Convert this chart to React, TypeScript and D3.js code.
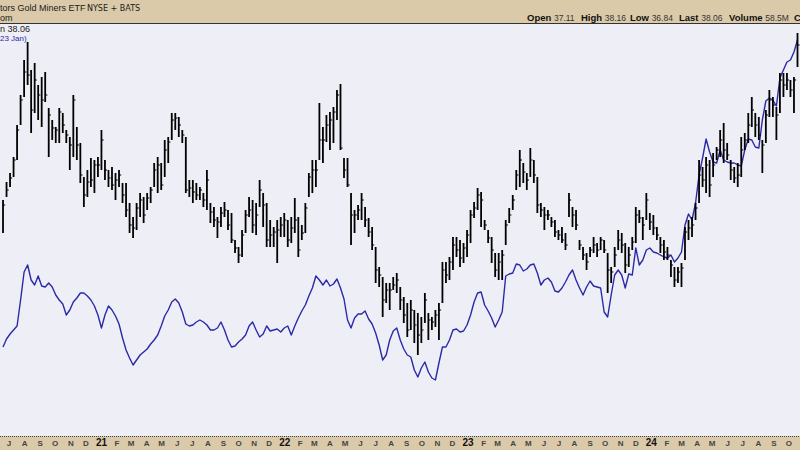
import { useEffect, useRef } from 'react'
import * as d3 from 'd3'

const WIDTH = 800
const HEIGHT = 450
const PLOT_TOP = 24
const PLOT_BOTTOM = 436

const FIRST_BAR = new Date(2020, 5, 19)
const X_DOMAIN: [Date, Date] = [new Date(2020, 5, 13), new Date(2024, 9, 23)]
const PRICE_DOMAIN = [19.4, 40]
const GOLD_DOMAIN = [1564, 2800]

const MONTH_LETTERS = ['J', 'F', 'M', 'A', 'M', 'J', 'J', 'A', 'S', 'O', 'N', 'D']

// GDX weekly bars, Jun 2020 – Oct 2024
const HIGH = [
  31.2, 32.1, 32.55, 33.35, 34.95, 36.45, 38.2, 39.1, 37.7, 38.05, 36.95, 37.35, 37.6, 35.8, 35.2, 34.85,
  35.8, 35.55, 34.7, 34.35, 36.45, 34.85, 34.05, 32.35, 32.7, 33.3, 33.2, 33.35, 34.7, 33.2, 32.7, 32.85,
  32.55, 32.7, 32.05, 32.05, 31.05, 30.35, 31.05, 31.55, 31.35, 31.55, 31.85, 33.05, 33.35, 33.05, 34.2, 34.35,
  35.55, 35.55, 35.35, 34.7, 34.35, 32.2, 32.2, 32.05, 31.85, 31.55, 32.7, 31.05, 30.85, 30.35, 30.85, 31.1,
  30.7, 30.55, 29.2, 28.85, 29.7, 30.7, 31.35, 31.2, 31.05, 32.2, 31.55, 31.05, 30.2, 29.85, 30.2, 30.35,
  30.55, 30.2, 30.35, 31.3, 30.35, 29.95, 31.05, 32.55, 33.2, 33.2, 36.05, 34.85, 35.45, 35.6, 35.85, 36.7,
  37.0, 33.3, 33.3, 31.55, 30.7, 30.95, 31.55, 30.85, 30.3, 29.85, 28.85, 27.85, 27.35, 27.05, 27.05, 27.35,
  27.55, 26.85, 26.35, 26.05, 26.2, 25.7, 25.55, 25.35, 26.55, 25.55, 25.35, 25.7, 26.05, 28.1, 28.1, 28.35,
  29.35, 29.35, 29.2, 29.05, 29.7, 30.7, 31.1, 31.8, 31.6, 30.2, 29.7, 29.35, 28.55, 28.55, 28.7, 30.2,
  30.8, 31.45, 32.7, 33.7, 33.05, 32.55, 33.8, 33.2, 32.35, 31.05, 30.85, 30.7, 30.35, 30.2, 29.7, 29.85,
  29.55, 31.55, 30.85, 30.7, 29.2, 28.85, 28.55, 28.85, 29.35, 29.05, 29.35, 29.2, 28.55, 27.85, 28.85, 29.7,
  29.55, 29.05, 28.85, 29.35, 30.85, 30.7, 30.35, 31.55, 30.55, 30.45, 29.85, 29.35, 29.2, 28.85, 28.2, 27.85,
  27.85, 28.05, 29.85, 30.2, 30.35, 31.05, 33.2, 32.85, 33.35, 33.2, 33.55, 33.85, 34.7, 35.05, 34.05, 33.2,
  32.85, 33.05, 34.35, 34.55, 35.55, 36.35, 35.55, 35.35, 34.2, 35.7, 36.7, 36.35, 35.85, 37.55, 37.55, 37.55,
  37.2, 37.35, 39.55,
]
const LOW = [
  29.55, 31.35, 31.85, 32.35, 33.2, 34.95, 36.35, 36.95, 34.55, 35.55, 35.2, 34.85, 36.1, 33.35, 34.2, 34.05,
  34.05, 34.55, 34.05, 32.7, 33.35, 33.2, 32.05, 30.85, 31.35, 31.85, 31.55, 32.35, 32.7, 32.2, 31.85, 31.7,
  31.2, 31.85, 31.05, 30.35, 29.55, 29.3, 29.7, 30.35, 30.05, 30.7, 31.05, 31.85, 31.55, 31.7, 32.35, 33.05,
  34.2, 34.7, 34.35, 34.05, 31.55, 31.35, 31.05, 31.2, 31.2, 30.85, 30.7, 30.05, 29.85, 29.3, 29.85, 30.35,
  29.7, 29.05, 28.55, 28.05, 28.35, 29.55, 30.35, 29.55, 29.45, 30.85, 29.85, 28.85, 28.85, 28.85, 28.05, 29.35,
  29.35, 28.85, 29.05, 29.55, 28.35, 29.2, 29.55, 31.35, 31.55, 31.85, 33.2, 33.05, 34.1, 33.7, 34.05, 35.2,
  33.7, 32.3, 31.85, 28.95, 29.55, 30.2, 30.2, 29.85, 29.35, 28.7, 27.05, 26.85, 25.35, 26.05, 25.7, 26.7,
  26.55, 25.7, 25.05, 24.35, 24.7, 24.05, 23.45, 24.05, 25.05, 24.2, 24.7, 24.85, 24.2, 26.05, 27.05, 27.2,
  27.7, 28.35, 27.85, 28.05, 28.35, 29.05, 30.3, 30.7, 29.85, 29.7, 29.05, 28.05, 27.35, 27.2, 27.2, 28.95,
  30.05, 30.7, 31.7, 31.85, 32.05, 31.7, 32.35, 32.05, 30.55, 30.35, 29.7, 30.2, 29.85, 29.35, 29.2, 29.05,
  28.7, 30.35, 29.85, 29.7, 28.7, 28.2, 27.7, 28.35, 28.55, 28.35, 28.7, 28.55, 26.55, 27.05, 27.85, 28.7,
  28.55, 27.55, 27.85, 28.7, 29.05, 30.05, 29.2, 30.2, 29.7, 29.45, 29.2, 28.55, 28.2, 28.2, 27.35, 26.85,
  27.05, 26.85, 28.2, 29.2, 29.35, 30.2, 31.05, 31.85, 31.55, 31.35, 32.35, 33.2, 33.35, 33.05, 33.2, 32.2,
  32.05, 31.85, 32.35, 33.7, 34.05, 34.85, 34.35, 34.2, 32.55, 34.05, 35.35, 35.35, 34.2, 35.55, 36.35, 36.7,
  36.35, 35.55, 37.85,
]
const CLOSE = [
  30.95, 31.7, 32.3, 33.2, 34.7, 36.2, 37.6, 37.45, 35.7, 37.2, 36.45, 36.2, 36.45, 35.45, 34.8, 34.7,
  35.6, 34.95, 34.45, 33.95, 36.2, 33.95, 32.45, 31.45, 32.1, 32.2, 32.95, 32.95, 34.2, 32.7, 32.3, 31.95,
  32.2, 32.45, 31.45, 30.7, 29.95, 29.8, 30.8, 31.2, 30.45, 31.3, 31.7, 32.7, 32.95, 31.95, 33.7, 34.1,
  35.2, 35.3, 34.95, 34.45, 31.7, 31.8, 31.6, 31.45, 31.7, 31.2, 32.2, 30.6, 30.2, 30.1, 30.55, 30.7,
  29.95, 29.2, 28.8, 28.45, 29.45, 30.45, 30.7, 29.95, 30.45, 31.7, 30.95, 29.2, 29.45, 29.6, 29.7, 29.95,
  30.2, 29.2, 29.8, 30.2, 28.7, 29.55, 30.8, 32.35, 32.7, 32.7, 34.2, 34.2, 34.95, 35.2, 35.6, 36.45,
  33.8, 32.7, 31.95, 30.45, 30.45, 30.7, 31.2, 30.2, 29.6, 28.95, 27.7, 27.45, 26.2, 26.7, 26.7, 26.95,
  27.2, 26.2, 25.45, 24.7, 25.7, 24.95, 24.45, 24.7, 26.2, 25.2, 25.1, 25.45, 25.7, 27.7, 27.45, 28.1,
  28.95, 28.7, 28.3, 28.8, 29.45, 30.45, 30.8, 31.45, 31.2, 29.95, 29.3, 28.7, 27.7, 28.1, 28.45, 29.95,
  30.45, 31.2, 32.45, 33.2, 32.6, 32.2, 33.2, 32.45, 30.95, 30.7, 30.45, 30.45, 30.1, 29.6, 29.45, 29.2,
  28.95, 31.2, 30.45, 29.95, 28.95, 28.45, 28.1, 28.7, 28.95, 28.7, 29.2, 28.7, 27.7, 27.6, 28.45, 29.2,
  28.95, 27.95, 28.45, 29.1, 30.45, 30.3, 29.95, 31.2, 30.1, 29.8, 29.45, 28.95, 28.6, 28.45, 27.95, 27.2,
  27.6, 27.8, 29.6, 29.8, 29.95, 30.8, 32.45, 32.2, 32.95, 31.95, 32.95, 33.7, 34.2, 33.7, 33.45, 32.7,
  32.3, 32.45, 33.7, 34.2, 34.95, 35.7, 34.95, 34.45, 33.95, 35.45, 36.2, 35.95, 35.45, 37.2, 36.95, 37.2,
  36.7, 37.2, 38.95,
]

// Gold overlay, same weeks
const GOLD = [
  1831, 1855, 1870, 1882, 1894, 1972, 2056, 2077, 2032, 2017, 2044, 2014, 2011, 2023, 2011, 1987,
  1972, 1960, 1927, 1942, 1966, 1978, 1993, 1993, 1984, 1972, 1954, 1927, 1888, 1927, 1954, 1942,
  1924, 1900, 1858, 1822, 1798, 1777, 1792, 1807, 1816, 1825, 1840, 1852, 1867, 1894, 1924, 1942,
  1966, 1975, 1963, 1936, 1900, 1894, 1897, 1906, 1912, 1906, 1897, 1882, 1882, 1888, 1906, 1882,
  1852, 1831, 1834, 1846, 1855, 1867, 1894, 1906, 1882, 1861, 1870, 1894, 1879, 1882, 1885, 1876,
  1888, 1894, 1867, 1894, 1918, 1939, 1957, 1984, 2008, 2044, 2032, 2017, 2032, 2014, 2020, 2035,
  2008, 1975, 1912, 1888, 1918, 1930, 1930, 1939, 1915, 1900, 1873, 1837, 1792, 1807, 1852, 1879,
  1888, 1852, 1825, 1807, 1801, 1762, 1741, 1768, 1786, 1756, 1738, 1732, 1783, 1831, 1831, 1852,
  1882, 1885, 1876, 1879, 1897, 1927, 1966, 1993, 1996, 1957, 1939, 1918, 1891, 1912, 1936, 2044,
  2050, 2053, 2080, 2077, 2059, 2065, 2077, 2080, 2053, 2017, 2032, 2038, 2026, 1999, 1996, 2008,
  2026, 2047, 2062, 2032, 2008, 1987, 2011, 2029, 2014, 2011, 2008, 1936, 1921, 1987, 2047, 2062,
  2047, 2008, 2050, 2047, 2128, 2077, 2092, 2122, 2128, 2116, 2113, 2107, 2101, 2098, 2107, 2086,
  2098, 2116, 2197, 2230, 2212, 2263, 2347, 2398, 2455, 2416, 2386, 2383, 2422, 2392, 2386, 2383,
  2383, 2377, 2374, 2422, 2455, 2452, 2431, 2428, 2512, 2569, 2578, 2572, 2554, 2638, 2662, 2686,
  2692, 2716, 2752,
]

const QUOTE = [
  { label: 'Open', value: '37.11', x: 527 },
  { label: 'High', value: '38.16', x: 581 },
  { label: 'Low', value: '36.84', x: 630 },
  { label: 'Last', value: '38.06', x: 679 },
  { label: 'Volume', value: '58.5M', x: 729 },
  { label: 'Chg', value: '', x: 794 },
]

const FONT = '"Liberation Sans", Arial, sans-serif'
const TAN = '#dbcaa9'
const PLOT_BG = '#eeeef6'
const GOLD_COLOR = '#2a2aa8'

export default function App() {
  const svgRef = useRef<SVGSVGElement>(null)

  useEffect(() => {
    const svg = d3.select(svgRef.current)
    svg.selectAll('*').remove()

    const dates = CLOSE.map((_, i) => d3.timeWeek.offset(FIRST_BAR, i))
    const x = d3.scaleTime().domain(X_DOMAIN).range([0, WIDTH])
    const y = d3.scaleLinear().domain(PRICE_DOMAIN).range([PLOT_BOTTOM, PLOT_TOP])
    const yGold = d3.scaleLinear().domain(GOLD_DOMAIN).range([PLOT_BOTTOM, PLOT_TOP])

    // ── Backgrounds ─────────────────────────────────────────────────────────
    svg.append('rect').attr('width', WIDTH).attr('height', HEIGHT).attr('fill', TAN)
    svg.append('rect')
      .attr('y', PLOT_TOP).attr('width', WIDTH).attr('height', PLOT_BOTTOM - PLOT_TOP)
      .attr('fill', PLOT_BG)
    svg.append('line')
      .attr('x1', 0).attr('x2', WIDTH).attr('y1', PLOT_TOP - 0.5).attr('y2', PLOT_TOP - 0.5)
      .attr('stroke', '#333').attr('stroke-width', 1)

    // ── Header ──────────────────────────────────────────────────────────────
    const title = svg.append('text')
      .attr('x', 0).attr('y', 11).attr('font-family', FONT).attr('fill', '#1a1a1a')
    title.append('tspan').attr('font-size', 9).text('tors Gold Miners ETF ')
    title.append('tspan').attr('x', 87).attr('font-size', 8)
      .attr('font-family', '"DejaVu Sans", sans-serif').text('NYSE + BATS')
    svg.append('text')
      .attr('x', 0).attr('y', 21).attr('font-family', FONT).attr('font-size', 9)
      .attr('fill', '#1a1a1a').text('om')

    QUOTE.forEach(q => {
      const t = svg.append('text')
        .attr('x', q.x).attr('y', 21).attr('font-family', FONT).attr('fill', '#111')
      t.append('tspan').attr('font-size', 9.5).attr('font-weight', 'bold').text(q.label + ' ')
      t.append('tspan').attr('font-size', 8.5).attr('fill', '#333').text(q.value)
    })

    // ── Bottom axis band ────────────────────────────────────────────────────
    svg.append('line')
      .attr('x1', 0).attr('x2', WIDTH).attr('y1', PLOT_BOTTOM + 0.5).attr('y2', PLOT_BOTTOM + 0.5)
      .attr('stroke', '#444').attr('stroke-dasharray', '1,1')

    const months = d3.timeMonth.range(X_DOMAIN[0], X_DOMAIN[1])
    svg.append('g').selectAll('text').data(months).join('text')
      .attr('x', d => x(d)).attr('y', 446)
      .attr('text-anchor', 'middle').attr('font-family', FONT)
      .attr('font-size', d => (d.getMonth() === 0 ? 10 : 8))
      .attr('font-weight', 'bold')
      .attr('fill', d => (d.getMonth() === 0 ? '#111' : '#444'))
      .text(d => (d.getMonth() === 0 ? d3.timeFormat('%y')(d) : MONTH_LETTERS[d.getMonth()]))

    // ── Gold overlay ────────────────────────────────────────────────────────
    const line = d3.line<number>()
      .x((_, i) => x(dates[i]))
      .y(d => yGold(d))
    svg.append('path')
      .attr('d', line(GOLD) ?? '')
      .attr('fill', 'none').attr('stroke', GOLD_COLOR).attr('stroke-width', 1.4)
      .attr('stroke-linejoin', 'round')

    // ── GDX HLC bars ────────────────────────────────────────────────────────
    const bars = svg.append('g').attr('stroke', '#000')
    CLOSE.forEach((c, i) => {
      const bx = x(dates[i])
      bars.append('line')
        .attr('x1', bx).attr('x2', bx)
        .attr('y1', y(HIGH[i])).attr('y2', y(LOW[i]))
        .attr('stroke-width', 1.8)
      bars.append('line')
        .attr('x1', bx).attr('x2', bx + 2.2)
        .attr('y1', y(c)).attr('y2', y(c))
        .attr('stroke-width', 1)
    })

    // ── Legend text inside plot ─────────────────────────────────────────────
    svg.append('text')
      .attr('x', 0).attr('y', 32).attr('font-family', FONT).attr('font-size', 9)
      .attr('fill', '#222').text('n 38.06')
    svg.append('text')
      .attr('x', 0).attr('y', 40.5).attr('font-family', FONT).attr('font-size', 8)
      .attr('fill', GOLD_COLOR).text('23 Jan)')
  }, [])

  return (
    <svg
      ref={svgRef}
      width={WIDTH}
      height={HEIGHT}
      style={{ position: 'absolute', left: 0, top: 0, display: 'block' }}
    />
  )
}
